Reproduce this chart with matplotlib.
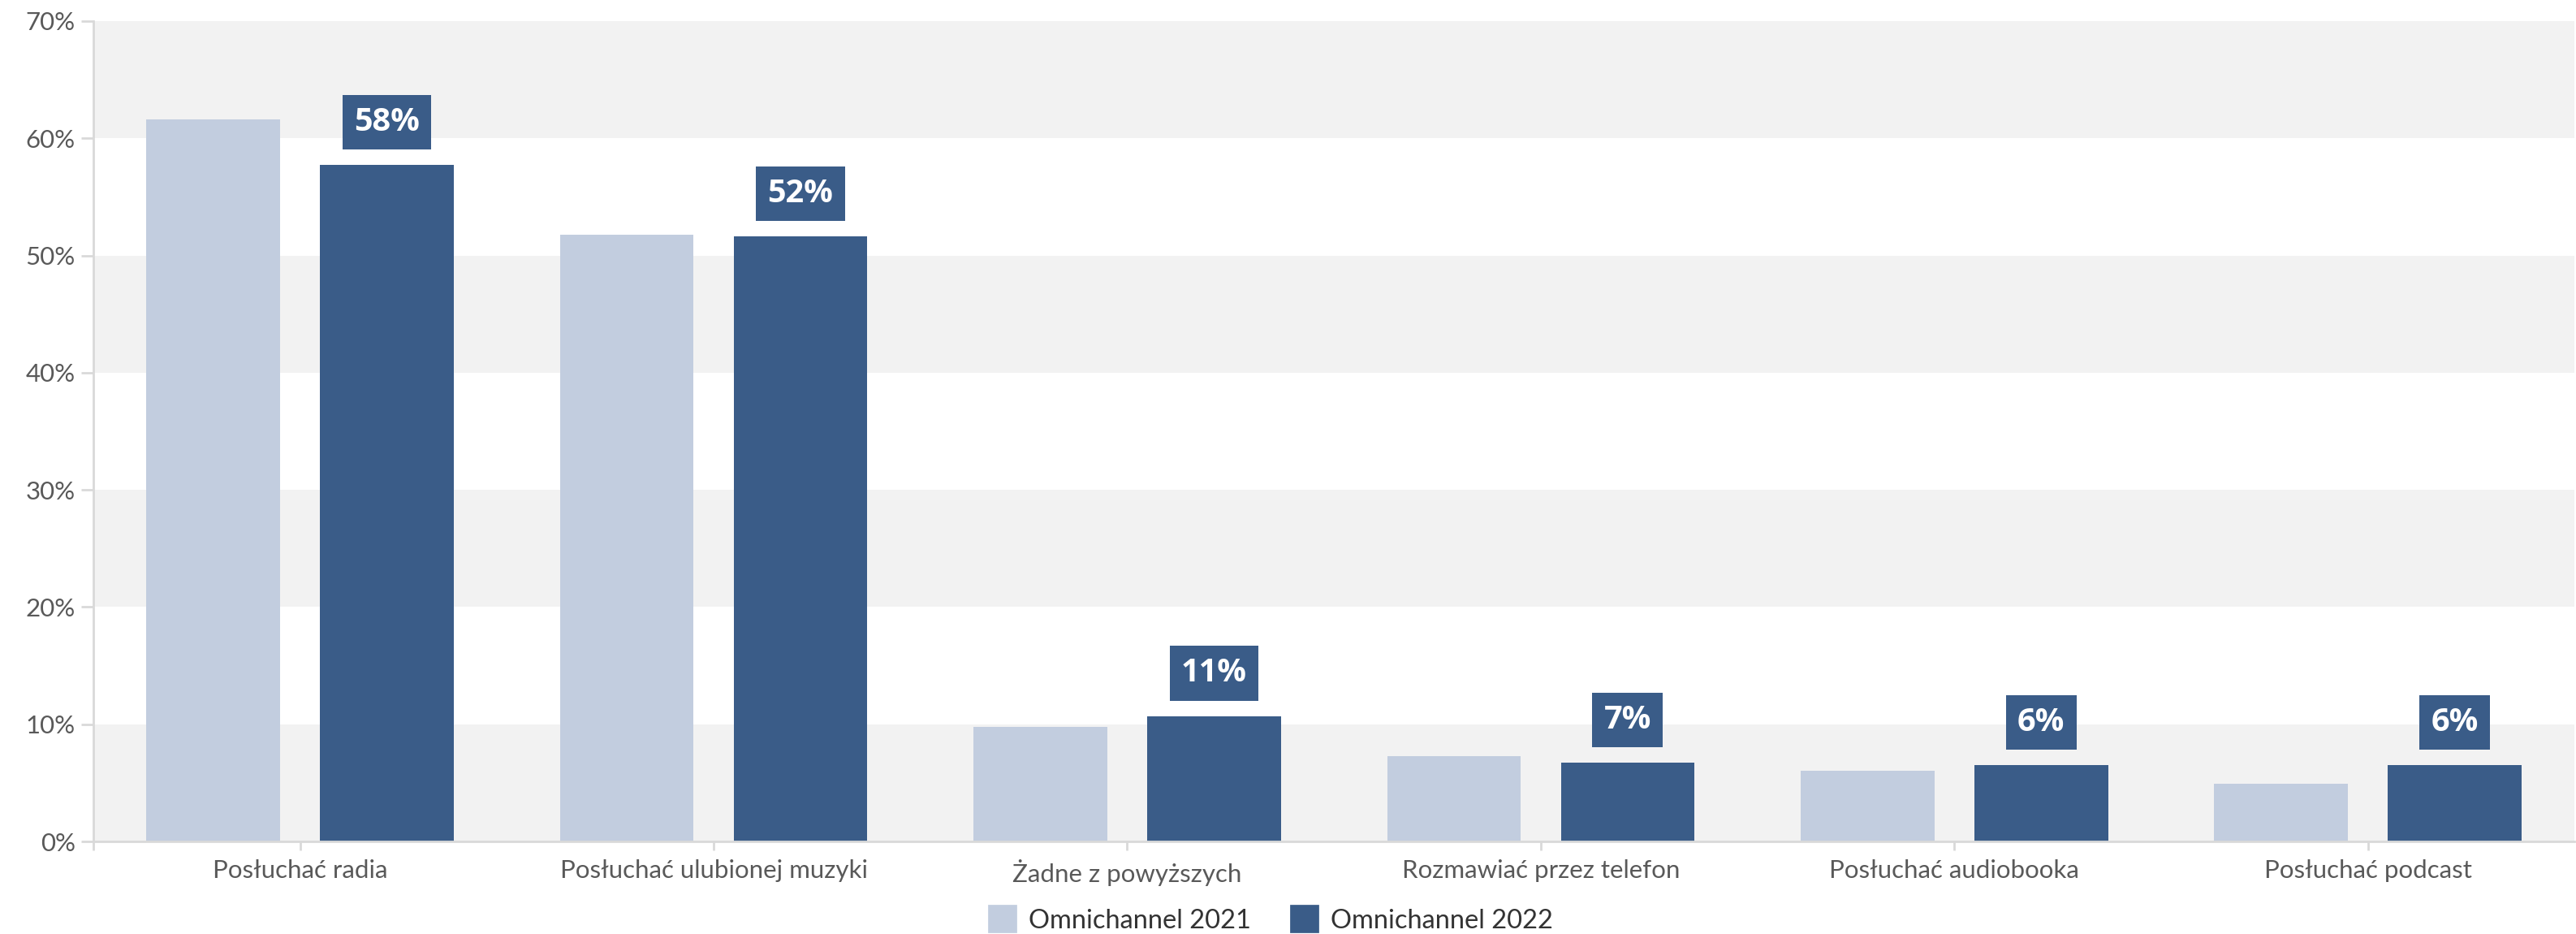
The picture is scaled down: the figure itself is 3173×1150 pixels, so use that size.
import numpy as np
import matplotlib
matplotlib.use('Agg')
import matplotlib.pyplot as plt
from matplotlib.patches import Patch
from matplotlib.ticker import FuncFormatter

categories = ['Posłuchać radia', 'Posłuchać ulubionej muzyki', 'Żadne z powyższych',
              'Rozmawiać przez telefon', 'Posłuchać audiobooka', 'Posłuchać podcast']
values_2021 = [61.6, 51.8, 9.8, 7.3, 6.0, 4.9]
values_2022 = [57.7, 51.6, 10.7, 6.7, 6.5, 6.5]
series_names = ['Omnichannel 2021', 'Omnichannel 2022']

# kolory
light = '#C2CDDF'
dark = '#3A5C88'
band = '#F2F2F2'
axis_col = '#D9D9D9'
text_col = '#595959'

plt.rcParams['font.family'] = ['Lato', 'DejaVu Sans']

fig = plt.figure(figsize=(31.73, 11.5), dpi=100)
ax = fig.add_axes([0.0362, 0.0991, 0.9633, 0.8783])

x = np.arange(len(categories))
w = 0.323
off = 0.21

# pasy tła
for lo in range(0, 70, 20):
    ax.axhspan(lo, lo + 10, color=band, zorder=0, lw=0)

ax.bar(x - off, values_2021, width=w, color=light, zorder=2)
bars2 = ax.bar(x + off, values_2022, width=w, color=dark, zorder=2)

# etykiety wartości
for bar, val in zip(bars2, values_2022):
    ax.annotate(f'{val:.0f}%', (bar.get_x() + bar.get_width() / 2, bar.get_height()),
                xytext=(0, 24), textcoords='offset points', ha='center', va='bottom',
                fontsize=28.5, fontweight='bold', color='white', family=['Open Sans', 'DejaVu Sans'],
                bbox=dict(boxstyle='square,pad=0.36', fc=dark, ec='none'), zorder=5)

ax.set_xlim(-0.5, len(categories) - 0.5)
ax.set_ylim(0, 70)
ax.set_yticks(np.arange(0, 71, 10))
ax.yaxis.set_major_formatter(FuncFormatter(lambda v, p: f'{v:.0f}%'))
ax.set_xticks(x)
ax.set_xticklabels(categories)
ax.set_xticks([-0.5], minor=True)

for s in ['top', 'right']:
    ax.spines[s].set_visible(False)
for s in ['left', 'bottom']:
    ax.spines[s].set_color(axis_col)
    ax.spines[s].set_linewidth(2)

ax.tick_params(axis='y', length=11, width=2, color=axis_col, labelsize=22.5,
               labelcolor=text_col, pad=5)
ax.tick_params(axis='x', which='both', length=8, width=2, color=axis_col, labelsize=22.5,
               labelcolor=text_col, pad=8)

handles = [Patch(facecolor=c, edgecolor=c, linewidth=7, joinstyle='round')
           for c in [light, dark]]
fig.legend(handles, series_names, loc='center', bbox_to_anchor=(0.494, 0.014), ncol=2,
           frameon=False, fontsize=23.5, handlelength=0.8, handleheight=0.8,
           handletextpad=0.6, columnspacing=1.6, labelcolor='#333333')

plt.savefig('out.png', dpi=100)
plt.close()
